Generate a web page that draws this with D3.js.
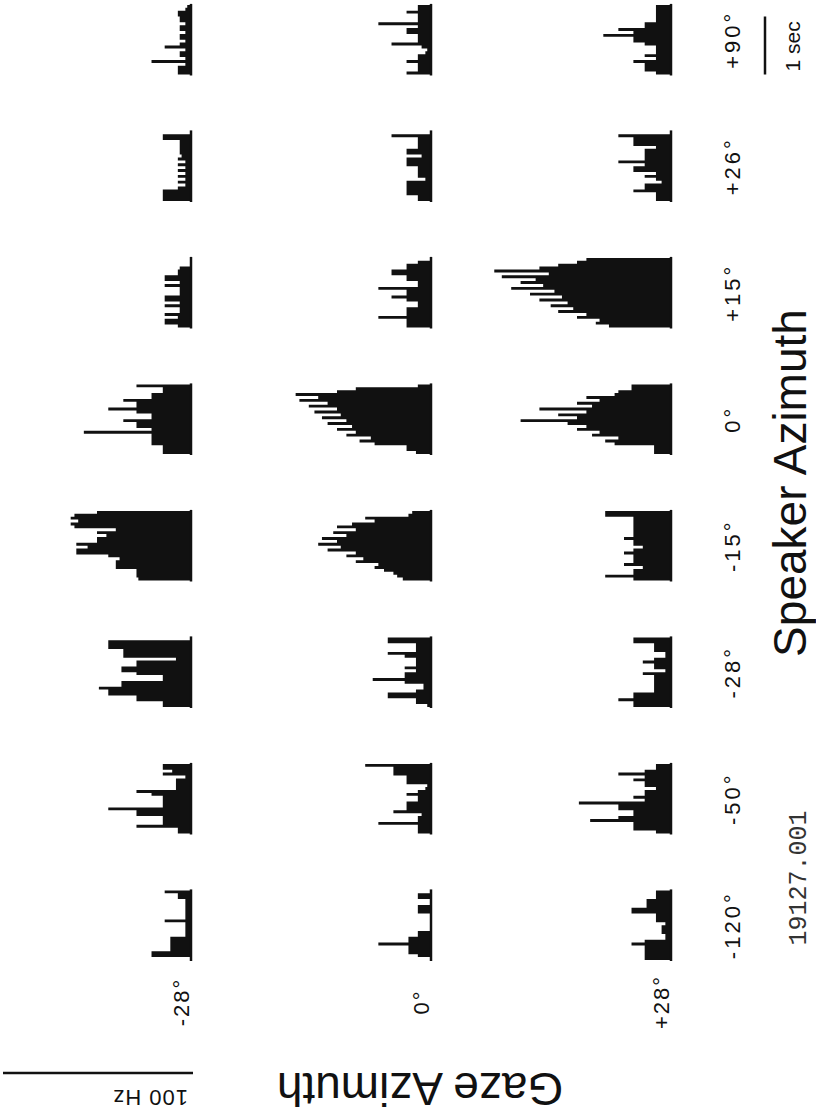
<!DOCTYPE html>
<html>
<head>
<meta charset="utf-8">
<script src="https://cdn.jsdelivr.net/npm/d3@7"></script>
<style>
  body { margin: 0; background: #fff; }
  text { font-family: "Liberation Sans", Arial, Helvetica, sans-serif; fill: #111; }
</style>
</head>
<body>
<div id="chart"></div>
<script>
// speaker azimuth columns (left -> right in the unrotated figure)
const speakers = ['-120°', '-50°', '-28°', '-15°', '0°', '+15°', '+26°', '+90°'];
// gaze azimuth rows (top -> bottom in the unrotated figure)
const gazes = ['-28°', '0°', '+28°'];
const binSec = 0.05; // 50 ms bins, 24 per histogram

// firing rate (Hz) per bin, one list per speaker position, for each gaze row
const rateGazeM28 = [
  [0,21,21,11,11,11,11,11,3,3,3,3,3,14,3,3,3,3,3,3,3,7,7,14],
  [7,7,29,15,15,15,29,29,44,15,15,15,15,21,29,8,8,8,8,3,15,10,15,15],
  [15,15,29,29,44,44,49,37,37,15,15,29,37,37,29,29,8,36,36,36,44,44,44,0],
  [28,29,29,29,40,40,40,38,44,61,61,55,61,50,50,45,50,40,62,64,60,64,62,50],
  [15,15,15,21,21,21,21,57,21,29,29,36,21,21,29,44,29,29,36,21,21,15,15,29],
  [7,14,14,7,14,6,6,14,6,14,14,6,6,6,14,6,14,14,7,7,6,0,0,0],
  [15,15,15,15,7,3,7,3,7,3,7,3,7,3,7,5,6,6,6,6,6,15,15,0],
  [7,7,7,3,21,3,6,6,3,14,6,3,6,6,3,6,6,3,6,6,7,7,3,2]
];
const rateGaze0 = [
  [0,7,12,12,12,28,12,12,7,7,0,0,0,0,0,0,7,7,7,0,0,7,7,0],
  [7,7,7,28,7,7,5,20,13,13,13,7,7,13,7,3,2,13,13,13,20,20,20,35],
  [2,8,8,23,23,8,4,4,14,31,14,14,8,14,8,8,8,14,23,8,8,8,23,23],
  [15,18,20,25,30,28,40,36,45,40,55,48,60,50,58,45,52,40,50,42,30,35,12,10],
  [8,13,13,30,38,32,45,40,50,42,55,45,58,48,62,50,65,55,70,60,72,50,40,7],
  [13,13,13,28,13,13,13,7,7,13,21,13,13,28,7,7,13,13,21,21,13,13,7,0],
  [7,7,13,13,13,13,13,3,7,7,7,7,13,13,13,5,13,13,7,7,7,7,21,0],
  [13,7,7,7,13,7,7,3,2,5,21,7,7,7,13,13,7,28,7,7,7,13,7,7]
];
const rateGazeP28 = [
  [14,14,14,14,14,21,14,3,3,5,5,5,3,8,8,8,21,21,13,13,13,8,8,8],
  [8,20,20,20,43,28,20,20,28,28,49,14,20,14,14,8,14,14,20,14,28,14,8,8],
  [20,20,28,20,20,9,9,9,9,9,9,15,3,9,9,15,9,3,3,9,9,9,20,20],
  [20,35,20,20,15,25,20,20,20,25,20,15,20,20,25,20,20,20,20,20,20,20,35,35],
  [9,9,9,30,35,28,42,38,50,45,55,80,50,60,45,70,42,50,38,45,30,28,21,21],
  [33,40,38,50,45,60,52,64,55,70,58,75,62,85,68,80,72,90,65,94,70,60,50,45],
  [8,8,8,20,14,14,5,8,14,8,20,20,14,28,14,14,14,14,8,20,20,20,28,0],
  [8,14,14,14,20,8,14,8,8,8,14,20,20,36,20,28,14,14,8,8,8,8,8,8]
];
const rates = [rateGazeM28, rateGaze0, rateGazeP28];

const W = 816, H = 1120;
const svg = d3.select('#chart').append('svg').attr('width', W).attr('height', H);

// the figure is drawn landscape, then turned a quarter turn counter-clockwise
const fig = svg.append('g').attr('transform', `translate(0,${H}) rotate(-90)`);

const colX = d3.scalePoint().domain(speakers).range([160, 1045.5]);
const rowY = d3.scalePoint().domain(gazes).range([191, 671]);
const tx = d3.scaleLinear().domain([0, 1]).range([0, 58]);     // 1 sec = 58px
const ry = d3.scaleLinear().domain([0, 100]).range([0, 188]);  // 100 Hz = 188px

gazes.forEach((g, gi) => {
  const base = rowY(g);
  speakers.forEach((s, si) => {
    const vals = rates[gi][si];
    const x0 = colX(s);
    const pts = vals.map((v, i) => [i * binSec, v]);
    pts.push([vals.length * binSec, 0]);
    const area = d3.area()
      .x(d => x0 + tx(d[0]))
      .y0(base)
      .y1(d => base - ry(d[1]))
      .curve(d3.curveStepAfter);
    fig.append('path').attr('d', area(pts)).attr('fill', '#111');
    fig.append('line')
      .attr('x1', x0 - 1).attr('x2', x0 + tx(vals.length * binSec) + 1)
      .attr('y1', base).attr('y2', base)
      .attr('stroke', '#111').attr('stroke-width', 2.5);
  });
  fig.append('text')
    .attr('x', 118).attr('y', base - 2)
    .attr('text-anchor', 'middle')
    .style('font-size', '22px').style('letter-spacing', '2px')
    .text(g);
});

// speaker labels
fig.selectAll('.spk').data(speakers).enter().append('text')
  .attr('class', 'spk')
  .attr('x', d => colX(d) + tx(0.6))
  .attr('y', 740)
  .attr('text-anchor', 'middle')
  .style('font-size', '22px').style('letter-spacing', '3px')
  .text(d => d);

fig.append('text')
  .attr('x', 637).attr('y', 806)
  .attr('text-anchor', 'middle')
  .style('font-size', '46px')
  .text('Speaker Azimuth');

fig.append('text')
  .attr('x', 242).attr('y', 806)
  .attr('text-anchor', 'middle')
  .style('font-family', '"Liberation Mono", "DejaVu Sans Mono", monospace')
  .style('font-size', '25px').style('fill', '#333')
  .text('19127.001');

fig.append('text')
  .attr('transform', 'translate(47,420) rotate(-90)')
  .attr('text-anchor', 'middle')
  .style('font-size', '46px')
  .text('Gaze Azimuth');

// 100 Hz scale bar
const topRow = rowY(gazes[0]);
fig.append('line')
  .attr('x1', 47).attr('x2', 47)
  .attr('y1', topRow + 2).attr('y2', topRow - ry(100))
  .attr('stroke', '#111').attr('stroke-width', 2.5);
fig.append('text')
  .attr('transform', `translate(30,${topRow - 3}) rotate(-90)`)
  .style('font-size', '22px').style('letter-spacing', '1px')
  .text('100 Hz');

// 1 sec scale bar
const lastX = colX(speakers[speakers.length - 1]);
fig.append('line')
  .attr('x1', lastX).attr('x2', lastX + tx(1))
  .attr('y1', 765).attr('y2', 765)
  .attr('stroke', '#111').attr('stroke-width', 2.5);
fig.append('text')
  .attr('x', lastX + 3).attr('y', 800)
  .style('font-size', '21px')
  .text('1 sec');
</script>
</body>
</html>
